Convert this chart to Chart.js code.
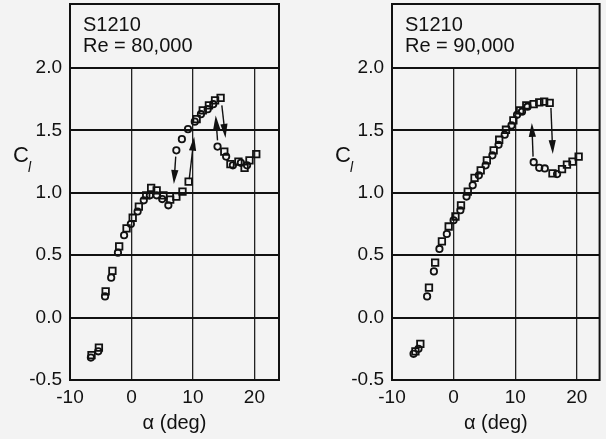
<!DOCTYPE html>
<html>
<head>
<meta charset="utf-8">
<script src="https://cdn.jsdelivr.net/npm/chart.js@4.4.0/dist/chart.umd.min.js"></script>
<style>
    body { margin: 0; background: #f3f3f3; }
    .panel { position: absolute; top: 0; height: 439px; }
    #left { left: 0; width: 300px; }
    #right { left: 322px; width: 284px; }
</style>
</head>
<body>
<div class="panel" id="left"><canvas id="chart80"></canvas></div>
<div class="panel" id="right"><canvas id="chart90"></canvas></div>

<script>

// Re = 80,000  (circles / squares)

var alpha80_circ = [-6.6, -5.4, -4.3, -3.3, -2.2, -1.2, -0.1, 1.0, 2.0, 3.0, 4.1, 5.0, 6.0,
                    7.3, 8.2, 9.2, 10.3, 11.3, 12.4, 13.3, 14.0, 15.4, 16.5, 17.8, 18.8];
var cl80_circ    = [-0.32, -0.27, 0.17, 0.32, 0.52, 0.66, 0.75, 0.85, 0.94, 0.98, 0.98, 0.95, 0.90,
                    1.34, 1.43, 1.51, 1.57, 1.63, 1.67, 1.71, 1.37, 1.29, 1.22, 1.24, 1.22];

var alpha80_sq = [-6.5, -5.3, -4.2, -3.1, -2.0, -0.8, 0.2, 1.2, 2.4, 3.2, 4.1, 5.2, 6.3, 7.3, 8.3, 9.3,
                  10.6, 11.6, 12.6, 13.6, 14.5, 15.1, 16.1, 17.4, 18.4, 19.2, 20.3];
var cl80_sq    = [-0.30, -0.24, 0.21, 0.375, 0.57, 0.715, 0.80, 0.89, 0.98, 1.04, 1.02, 0.98, 0.945, 0.97, 1.01, 1.09,
                  1.59, 1.66, 1.70, 1.74, 1.76, 1.33, 1.23, 1.25, 1.20, 1.26, 1.31];

// [alpha from, cl from, alpha to, cl to] - head at the end
var arrows80 = [[7.2, 1.29, 6.9, 1.07], [9.4, 1.11, 10.2, 1.45],
                [14.0, 1.42, 13.7, 1.62], [14.7, 1.70, 15.3, 1.44]];


// Re = 90,000

var alpha90_circ = [-6.5, -5.7, -4.3, -3.2, -2.3, -1.1, 0.0, 1.1, 2.1, 3.1, 4.1, 5.2, 6.3, 7.3, 8.3, 9.4,
                    10.3, 11.1, 12.0, 13.0, 13.9, 14.8, 16.8];
var cl90_circ    = [-0.29, -0.25, 0.17, 0.37, 0.55, 0.67, 0.78, 0.86, 0.97, 1.06, 1.14, 1.22, 1.30, 1.385, 1.465, 1.54,
                    1.625, 1.65, 1.69, 1.245, 1.20, 1.195, 1.15];

var alpha90_sq = [-6.2, -5.4, -4.0, -3.0, -1.9, -0.8, 0.3, 1.2, 2.3, 3.4, 4.4, 5.4, 6.5, 7.4, 8.5, 9.7,
                  10.8, 11.8, 13.0, 13.9, 14.7, 15.6, 16.05, 17.6, 18.4, 19.3, 20.3];
var cl90_sq    = [-0.27, -0.21, 0.24, 0.44, 0.61, 0.73, 0.81, 0.90, 1.01, 1.12, 1.18, 1.26, 1.34, 1.425, 1.505, 1.58,
                  1.66, 1.70, 1.71, 1.725, 1.73, 1.72, 1.155, 1.19, 1.225, 1.25, 1.29];

var arrows90 = [[12.9, 1.29, 12.7, 1.56], [15.8, 1.68, 16.1, 1.31]];

var x_ticks = [-10, 0, 10, 20];


var FONT = '"Liberation Sans", Arial, Helvetica, sans-serif';


function to_points(xs, ys) {
    var pts = [];
    for (var i = 0; i < xs.length; i++) {
        pts.push({x: xs[i], y: ys[i]});}
    return pts;
}


// frame, header box, C_l label and hysteresis arrows

var decorPlugin = {
    id: 'decor',
    afterDraw: function(chart, args, opts) {
        var ctx = chart.ctx;
        var a = chart.chartArea;
        var xs = chart.scales.x;
        var ys = chart.scales.y;

        ctx.save();
        ctx.strokeStyle = '#111';
        ctx.fillStyle = '#111';

        // arrows
        ctx.lineWidth = 1.4;
        opts.arrows.forEach(function(ar) {
            var x1 = xs.getPixelForValue(ar[0]), y1 = ys.getPixelForValue(ar[1]);
            var x2 = xs.getPixelForValue(ar[2]), y2 = ys.getPixelForValue(ar[3]);
            var ang = Math.atan2(y2 - y1, x2 - x1);
            var len = 14, half = 3.6;
            ctx.beginPath();
            ctx.moveTo(x1, y1);
            ctx.lineTo(x2 - Math.cos(ang) * len * 0.8, y2 - Math.sin(ang) * len * 0.8);
            ctx.stroke();
            ctx.beginPath();
            ctx.moveTo(x2, y2);
            ctx.lineTo(x2 - Math.cos(ang) * len - Math.sin(ang) * half,
                       y2 - Math.sin(ang) * len + Math.cos(ang) * half);
            ctx.lineTo(x2 - Math.cos(ang) * len + Math.sin(ang) * half,
                       y2 - Math.sin(ang) * len - Math.cos(ang) * half);
            ctx.closePath();
            ctx.fill();});

        // outer frame incl. header
        ctx.lineWidth = 2;
        ctx.strokeRect(a.left, 4, a.right - a.left, a.bottom - 4);
        ctx.beginPath();
        ctx.moveTo(a.left, a.top);
        ctx.lineTo(a.right, a.top);
        ctx.stroke();

        // header text
        ctx.font = '20px ' + FONT;
        ctx.textBaseline = 'middle';
        ctx.textAlign = 'left';
        ctx.fillText(opts.lines[0], a.left + 13, 25);
        ctx.fillText(opts.lines[1], a.left + 13, 46);

        // C_l
        ctx.font = '22px ' + FONT;
        ctx.fillText('C', a.left - 57, 156);
        ctx.font = 'italic 14px ' + FONT;
        ctx.fillText('l', a.left - 42, 168);

        ctx.restore();
    }
};


function cl_chart(canvas_id, circ, sq, arrows, header, x_max, pad_right) {

    var ctx = document.getElementById(canvas_id).getContext('2d');

    return new Chart(ctx, {
        type: 'scatter',

        data: {
            datasets: [
                {
                    label: 'circles',
                    data: circ,
                    pointStyle: 'circle',
                    pointRadius: 3.2,
                    borderWidth: 1.8,
                    borderColor: '#111',
                    backgroundColor: 'rgba(0,0,0,0)',},
                {
                    label: 'squares',
                    data: sq,
                    pointStyle: 'rect',
                    pointRadius: 4.6,
                    borderWidth: 1.8,
                    borderColor: '#111',
                    backgroundColor: 'rgba(0,0,0,0)',},],},

        options: {
            responsive: true,
            maintainAspectRatio: false,
            animation: false,
            layout: {padding: {top: 68, right: pad_right, bottom: 0, left: 0}},

            scales: {
                x: {
                    type: 'linear',
                    min: -10,
                    max: x_max,
                    afterBuildTicks: function(scale) {
                        scale.ticks = x_ticks.map(function(v) { return {value: v}; });},
                    afterFit: function(scale) { scale.height = 59; },
                    border: {display: false,},
                    grid: {color: '#222', lineWidth: 1.3, drawTicks: false,},
                    ticks: {
                        color: '#111',
                        padding: 6,
                        maxRotation: 0,
                        font: {size: 19, family: FONT},},
                    title: {
                        display: true,
                        text: '\u03b1 (deg)',
                        color: '#111',
                        padding: {top: 0, bottom: 4},
                        font: {size: 20, family: FONT},},},
                y: {
                    type: 'linear',
                    min: -0.5,
                    max: 2.0,
                    afterFit: function(scale) { scale.width = 70; },
                    border: {display: false,},
                    grid: {color: '#111', lineWidth: 2, drawTicks: false,},
                    ticks: {
                        stepSize: 0.5,
                        color: '#111',
                        padding: 8,
                        font: {size: 19, family: FONT},
                        callback: function(v) { return v.toFixed(1); },},},
            },

            plugins: {
                legend: {display: false,},
                tooltip: {enabled: false,},
                decor: {lines: header, arrows: arrows},},
        },
        plugins: [decorPlugin],
    });
}


cl_chart('chart80', to_points(alpha80_circ, cl80_circ), to_points(alpha80_sq, cl80_sq),
         arrows80, ['S1210', 'Re = 80,000'], 24, 21);

cl_chart('chart90', to_points(alpha90_circ, cl90_circ), to_points(alpha90_sq, cl90_sq),
         arrows90, ['S1210', 'Re = 90,000'], 23.7, 4);

</script>
</body>
</html>
